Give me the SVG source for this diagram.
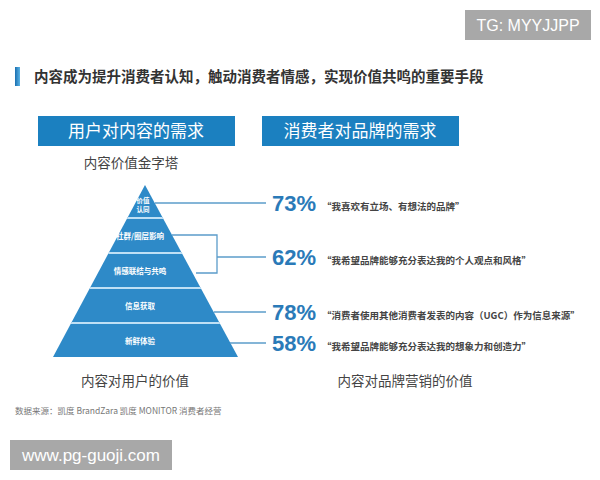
<svg xmlns="http://www.w3.org/2000/svg" width="600" height="480" viewBox="0 0 600 480">
<defs>
<linearGradient id="bar" x1="0" y1="0" x2="1" y2="0">
<stop offset="0" stop-color="#1a6fb0"/>
<stop offset="1" stop-color="#5bb4e6"/>
</linearGradient>
<clipPath id="pyr"><polygon points="145,185 238,357 53,357"/></clipPath>
</defs>
<style>
.cjk{font-family:"Noto Sans CJK SC","Liberation Sans",sans-serif}
.title{font-size:14.5px;font-weight:700;fill:#333}
.hdr{fill:#1b80c0}
.hdrt{font-size:17px;fill:#fff;text-anchor:middle}
.sub{font-size:13.5px;fill:#444;text-anchor:middle}
.lvl{font-size:7.5px;font-weight:700;fill:#fff;text-anchor:middle}
.top{font-size:6.5px}
.pct{font-family:"Liberation Sans",sans-serif;font-size:22px;font-weight:700;fill:#2a7ab8}
.quote{font-size:9.5px;font-weight:700;fill:#444}
.conn{fill:none;stroke:#5b9cca;stroke-width:1.3}
.wm{fill:#a8a8a8}
.wmt{font-family:"Liberation Sans",sans-serif;fill:#fff}
</style>
<rect width="600" height="480" fill="#fff"/>
<g id="watermark-top">
<rect class="wm" x="465" y="10" width="126" height="30"/>
<text class="wmt" x="528" y="31" font-size="16" text-anchor="middle">TG: MYYJJPP</text>
</g>
<g id="title">
<rect x="15" y="67" width="5" height="19" fill="url(#bar)"/>
<text class="cjk title" x="34" y="82">内容成为提升消费者认知，触动消费者情感，实现价值共鸣的重要手段</text>
</g>
<g id="header-user">
<rect class="hdr" x="38" y="116" width="197" height="30"/>
<text class="cjk hdrt" x="136" y="137">用户对内容的需求</text>
</g>
<g id="header-brand">
<rect class="hdr" x="262" y="116" width="197" height="30"/>
<text class="cjk hdrt" x="360" y="137">消费者对品牌的需求</text>
</g>
<text class="cjk sub" x="131" y="168">内容价值金字塔</text>
<g id="pyramid">
<polygon points="145,185 238,357 53,357" fill="#2e8ac8"/>
<g clip-path="url(#pyr)" stroke="#bfe0f5" stroke-width="2">
<line x1="40" y1="218" x2="250" y2="218"/>
<line x1="40" y1="253" x2="250" y2="253"/>
<line x1="40" y1="288" x2="250" y2="288"/>
<line x1="40" y1="323" x2="250" y2="323"/>
</g>
<text class="cjk lvl top" x="143" y="203">价值</text>
<text class="cjk lvl top" x="143" y="211.5">认同</text>
<text class="cjk lvl" x="140" y="239">社群/圈层影响</text>
<text class="cjk lvl" x="140" y="274">情感联结与共鸣</text>
<text class="cjk lvl" x="140" y="309">信息获取</text>
<text class="cjk lvl" x="140" y="344">新鲜体验</text>
</g>
<g id="connectors">
<line class="conn" x1="155" y1="203" x2="266" y2="203"/>
<polyline class="conn" points="172,235 217,235 217,273 196,273"/>
<line class="conn" x1="217" y1="257" x2="266" y2="257"/>
<line class="conn" x1="214" y1="312" x2="266" y2="312"/>
<line class="conn" x1="230" y1="343" x2="266" y2="343"/>
</g>
<g id="stat-73">
<text class="pct" x="272" y="211">73%</text>
<text class="cjk quote" x="322" y="210">“我喜欢有立场、有想法的品牌”</text>
</g>
<g id="stat-62">
<text class="pct" x="272" y="265">62%</text>
<text class="cjk quote" x="322" y="264">“我希望品牌能够充分表达我的个人观点和风格”</text>
</g>
<g id="stat-78">
<text class="pct" x="272" y="320">78%</text>
<text class="cjk quote" x="322" y="319">“消费者使用其他消费者发表的内容（UGC）作为信息来源”</text>
</g>
<g id="stat-58">
<text class="pct" x="272" y="351">58%</text>
<text class="cjk quote" x="322" y="350">“我希望品牌能够充分表达我的想象力和创造力”</text>
</g>
<text class="cjk sub" x="135" y="386" font-size="14">内容对用户的价值</text>
<text class="cjk sub" x="405" y="386" font-size="14">内容对品牌营销的价值</text>
<text class="cjk" x="15" y="414" font-size="8.5" fill="#777">数据来源：凯度 BrandZara 凯度 MONITOR 消费者经营</text>
<g id="watermark-bottom">
<rect class="wm" x="10" y="440" width="162" height="30"/>
<text class="wmt" x="91" y="461" font-size="17" text-anchor="middle">www.pg-guoji.com</text>
</g>
</svg>
